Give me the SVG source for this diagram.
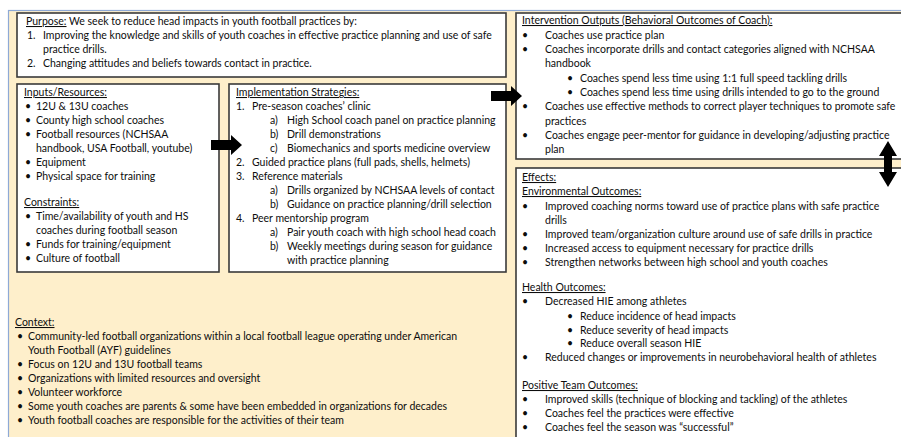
<svg xmlns="http://www.w3.org/2000/svg" width="901" height="437" viewBox="0 0 901 437">
<style>
text{font-family:Lato,"Liberation Sans",sans-serif;font-size:10.5px;fill:#0d0d0d}
.u{text-decoration:underline}
.box{fill:#fff;stroke:#3a3a3a;stroke-width:1.6}
.arr{fill:#000}
</style>
<rect x="0" y="0" width="901" height="437" fill="#fff"/>
<rect x="8.5" y="10.5" width="900" height="440" fill="#feefcb" stroke="#8ea9d6" stroke-width="1.2"/>
<g id="purpose">
<rect class="box" x="17" y="13" width="489" height="64"/>
<text x="26" y="25"><tspan class="u">Purpose:</tspan> We seek to reduce head impacts in youth football practices by:</text>
<text x="27" y="39">1.</text><text x="43" y="39">Improving the knowledge and skills of youth coaches in effective practice planning and use of safe</text>
<text x="43" y="53">practice drills.</text>
<text x="27" y="67">2.</text><text x="43" y="67">Changing attitudes and beliefs towards contact in practice.</text>
</g>
<g id="inputs">
<rect class="box" x="17" y="84" width="202" height="188"/>
<text x="24" y="96" class="u">Inputs/Resources:</text>
<text x="25" y="110">•</text><text x="36" y="110">12U &amp; 13U coaches</text>
<text x="25" y="124">•</text><text x="36" y="124">County high school coaches</text>
<text x="25" y="138">•</text><text x="36" y="138">Football resources (NCHSAA</text>
<text x="36" y="152">handbook, USA Football, youtube)</text>
<text x="25" y="166">•</text><text x="36" y="166">Equipment</text>
<text x="25" y="180">•</text><text x="36" y="180">Physical space for training</text>
<text x="24" y="206" class="u">Constraints:</text>
<text x="25" y="220">•</text><text x="36" y="220">Time/availability of youth and HS</text>
<text x="36" y="234">coaches during football season</text>
<text x="25" y="248">•</text><text x="36" y="248">Funds for training/equipment</text>
<text x="25" y="262">•</text><text x="36" y="262">Culture of football</text>
</g>
<g id="implementation">
<rect class="box" x="229" y="84" width="277" height="188"/>
<text x="236" y="96" class="u">Implementation Strategies:</text>
<text x="236" y="110">1.</text><text x="252" y="110">Pre-season coaches’ clinic</text>
<text x="270" y="124">a)</text><text x="287" y="124">High School coach panel on practice planning</text>
<text x="270" y="138">b)</text><text x="287" y="138">Drill demonstrations</text>
<text x="270" y="152">c)</text><text x="287" y="152">Biomechanics and sports medicine overview</text>
<text x="236" y="166">2.</text><text x="252" y="166">Guided practice plans (full pads, shells, helmets)</text>
<text x="236" y="180">3.</text><text x="252" y="180">Reference materials</text>
<text x="270" y="194">a)</text><text x="287" y="194">Drills organized by NCHSAA levels of contact</text>
<text x="270" y="208">b)</text><text x="287" y="208">Guidance on practice planning/drill selection</text>
<text x="236" y="222">4.</text><text x="252" y="222">Peer mentorship program</text>
<text x="270" y="236">a)</text><text x="287" y="236">Pair youth coach with high school head coach</text>
<text x="270" y="250">b)</text><text x="287" y="250">Weekly meetings during season for guidance</text>
<text x="287" y="264">with practice planning</text>
</g>
<g id="outputs">
<rect class="box" x="516" y="13" width="400" height="146"/>
<text x="522" y="24" class="u">Intervention Outputs (Behavioral Outcomes of Coach):</text>
<text x="522" y="38.5">•</text><text x="545" y="38.5">Coaches use practice plan</text>
<text x="522" y="52.5">•</text><text x="545" y="52.5">Coaches incorporate drills and contact categories aligned with NCHSAA</text>
<text x="545" y="67">handbook</text>
<text x="567" y="81.5">•</text><text x="580" y="81.5">Coaches spend less time using 1:1 full speed tackling drills</text>
<text x="567" y="96">•</text><text x="580" y="96">Coaches spend less time using drills intended to go to the ground</text>
<text x="522" y="110">•</text><text x="545" y="110">Coaches use effective methods to correct player techniques to promote safe</text>
<text x="545" y="124.5">practices</text>
<text x="522" y="139">•</text><text x="545" y="139">Coaches engage peer-mentor for guidance in developing/adjusting practice</text>
<text x="545" y="153">plan</text>
</g>
<g id="effects">
<rect class="box" x="516" y="168" width="400" height="280"/>
<text x="522" y="181" class="u">Effects:</text>
<text x="522" y="195" class="u">Environmental Outcomes:</text>
<text x="522" y="210">•</text><text x="545" y="210">Improved coaching norms toward use of practice plans with safe practice</text>
<text x="545" y="224">drills</text>
<text x="522" y="238">•</text><text x="545" y="238">Improved team/organization culture around use of safe drills in practice</text>
<text x="522" y="252">•</text><text x="545" y="252">Increased access to equipment necessary for practice drills</text>
<text x="522" y="266">•</text><text x="545" y="266">Strengthen networks between high school and youth coaches</text>
<text x="522" y="291" class="u">Health Outcomes:</text>
<text x="522" y="305">•</text><text x="545" y="305">Decreased HIE among athletes</text>
<text x="567" y="320">•</text><text x="580" y="320">Reduce incidence of head impacts</text>
<text x="567" y="334">•</text><text x="580" y="334">Reduce severity of head impacts</text>
<text x="567" y="347">•</text><text x="580" y="347">Reduce overall season HIE</text>
<text x="522" y="361">•</text><text x="545" y="361">Reduced changes or improvements in neurobehavioral health of athletes</text>
<text x="522" y="389" class="u">Positive Team Outcomes:</text>
<text x="522" y="403">•</text><text x="545" y="403">Improved skills (technique of blocking and tackling) of the athletes</text>
<text x="522" y="417">•</text><text x="545" y="417">Coaches feel the practices were effective</text>
<text x="522" y="431">•</text><text x="545" y="431">Coaches feel the season was “successful”</text>
</g>
<g id="context">
<text x="15" y="326" class="u">Context:</text>
<text x="17" y="340">•</text><text x="28" y="340">Community-led football organizations within a local football league operating under American</text>
<text x="28" y="354">Youth Football (AYF) guidelines</text>
<text x="17" y="368">•</text><text x="28" y="368">Focus on 12U and 13U football teams</text>
<text x="17" y="382">•</text><text x="28" y="382">Organizations with limited resources and oversight</text>
<text x="17" y="396">•</text><text x="28" y="396">Volunteer workforce</text>
<text x="17" y="410">•</text><text x="28" y="410">Some youth coaches are parents &amp; some have been embedded in organizations for decades</text>
<text x="17" y="424">•</text><text x="28" y="424">Youth football coaches are responsible for the activities of their team</text>
</g>
<g id="connectors">
<polygon class="arr" points="211,140 231,140 231,135 242,145 231,155 231,150 211,150"/>
<polygon class="arr" points="491,91 511,91 511,86 522,96 511,106 511,101 491,101"/>
<polygon class="arr" points="888,141 897,156 892,156 892,172 897,172 888,187 879,172 884,172 884,156 879,156"/>
</g>
</svg>
